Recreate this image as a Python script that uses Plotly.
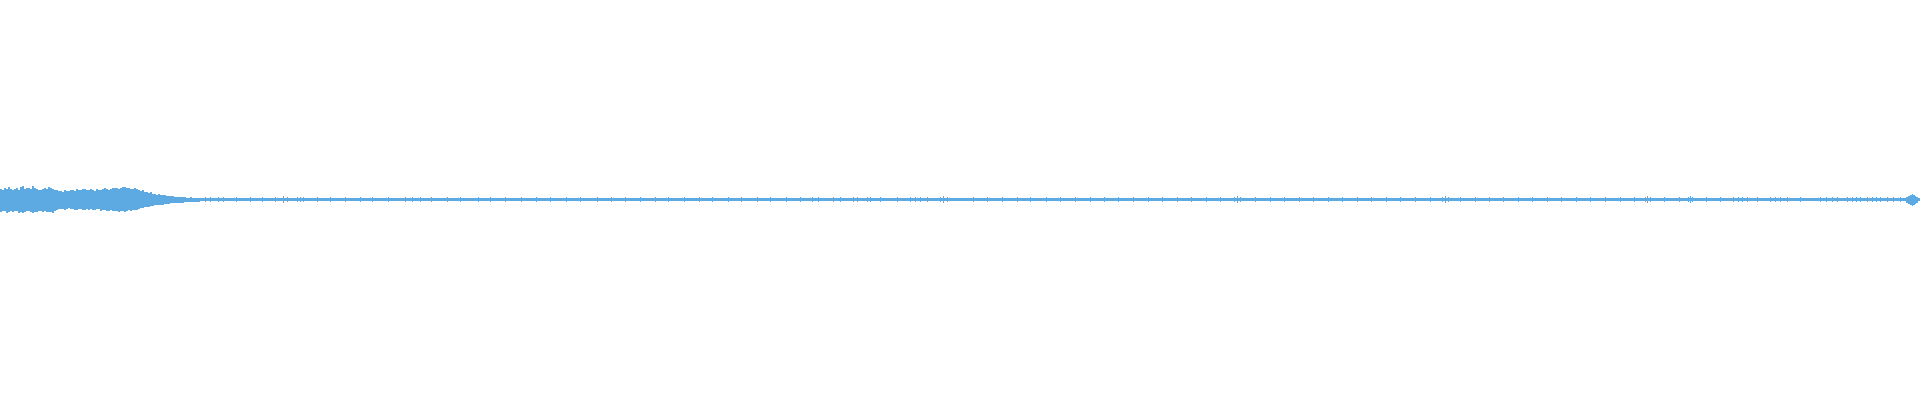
import plotly.graph_objects as go

# Peak levels of an audio waveform (y axis spans -200..200 level units)
# Loud intro, one value per 2 columns (columns 0..199)
intro_top = [11,10,12,11,13,11,10,11,12,10,13,14,11,12,12,11,14,12,11,10,
             10,11,12,11,13,12,11,10,10,9,9,8,10,9,9,10,10,9,11,10,
             10,11,11,10,10,11,10,9,11,10,10,11,12,11,10,11,12,12,12,11,
             12,13,13,12,12,11,11,12,11,10,9,10,8,8,7,8,6,6,5,6,
             5,5,5,4,4,4,4,3,3,3,3,3,3,2,2,3,2,2,2,2]
intro_bottom = [12,11,11,13,12,11,12,11,11,13,12,13,12,11,11,12,13,12,12,11,
                11,12,11,12,12,12,13,11,10,9,9,9,10,9,8,9,9,10,10,9,
                9,10,10,9,10,9,10,10,9,9,11,10,10,11,11,10,11,11,11,12,
                11,11,12,11,10,11,10,10,10,9,8,8,7,7,7,6,6,5,5,5,
                5,5,4,4,4,3,3,3,3,3,3,3,2,2,2,2,2,2,2,2]

# Quiet tail baseline (columns 200..1919)
tail_top = 2
tail_bottom = 1

# Short peaks in the quiet tail
spike_x = [205,210,218,223,236,250,262,275,283,287,297,300,303,317,330,345,360,372,388,405,
           412,420,431,447,460,478,490,505,521,536,550,566,580,597,611,625,640,655,668,684,
           699,712,728,741,757,770,786,800,812,818,833,840,853,857,867,870,880,897,910,915,
           920,927,940,943,947,973,987,1002,1017,1030,1046,1060,1075,1090,1104,1118,1133,1148,1162,1177,
           1191,1206,1220,1234,1237,1240,1255,1270,1284,1299,1313,1328,1342,1357,1371,1386,1400,1415,1430,1442,
           1445,1448,1460,1475,1489,1503,1518,1532,1547,1561,1576,1590,1605,1620,1634,1645,1647,1650,1664,1679,
           1688,1690,1692,1706,1720,1733,1738,1742,1747,1757,1770,1775,1780,1787,1800,1820,1826,1832,1837,1847,
           1852,1856,1860,1867,1872,1876,1880,1887,1893,1900]
spike_amp = [3,3,3,3,3,3,3,3,4,3,3,3,3,3,3,3,3,3,3,3,
             3,3,3,3,3,3,3,3,3,3,3,3,3,3,3,3,3,3,3,3,
             3,3,3,3,3,3,3,3,3,3,3,3,3,3,3,3,3,3,3,3,
             3,3,3,4,3,3,3,3,3,3,3,3,3,3,3,3,3,3,3,3,
             3,3,3,3,4,3,3,3,3,3,3,3,3,3,3,3,3,3,3,3,
             4,3,3,3,3,3,3,3,3,3,3,3,3,3,3,3,4,3,3,3,
             3,4,3,3,3,3,3,3,3,3,3,3,3,3,3,3,3,3,3,3,
             3,3,3,3,3,3,3,3,3,3]

# Final swell at the very end
end_x = [1906,1907,1908,1909,1910,1911,1912,1913,1914,1915,1916,1917]
end_amp = [3,3,4,4,5,5,6,5,5,4,3,3]

N = 1920
top = [tail_top] * N
bottom = [tail_bottom] * N
for i in range(200):
    top[i] = intro_top[i // 2]
    bottom[i] = intro_bottom[i // 2]
for x, a in zip(spike_x, spike_amp):
    top[x] = a
    bottom[x] = a - 1
for x, a in zip(end_x, end_amp):
    top[x] = a
    bottom[x] = a

xs = list(range(N + 1))
top_y = top + [top[-1]]
bot_y = [-b for b in bottom] + [-bottom[-1]]

color = "#5DA9E1"
fig = go.Figure()
fig.add_trace(go.Scatter(x=xs, y=bot_y, mode="lines", line=dict(width=0, shape="hv", color=color),
                         hoverinfo="skip"))
fig.add_trace(go.Scatter(x=xs, y=top_y, mode="lines", line=dict(width=0, shape="hv", color=color),
                         fill="tonexty", fillcolor=color, hoverinfo="skip"))
fig.update_layout(width=1920, height=400, margin=dict(l=0, r=0, t=0, b=0),
                  paper_bgcolor="white", plot_bgcolor="white", showlegend=False)
fig.update_xaxes(visible=False, range=[0, N], fixedrange=True)
fig.update_yaxes(visible=False, range=[-200, 200], fixedrange=True)
fig.write_html("out.html",
               post_script="document.body.style.margin='0';document.body.style.overflow='hidden';",
               config={"displayModeBar": False})
